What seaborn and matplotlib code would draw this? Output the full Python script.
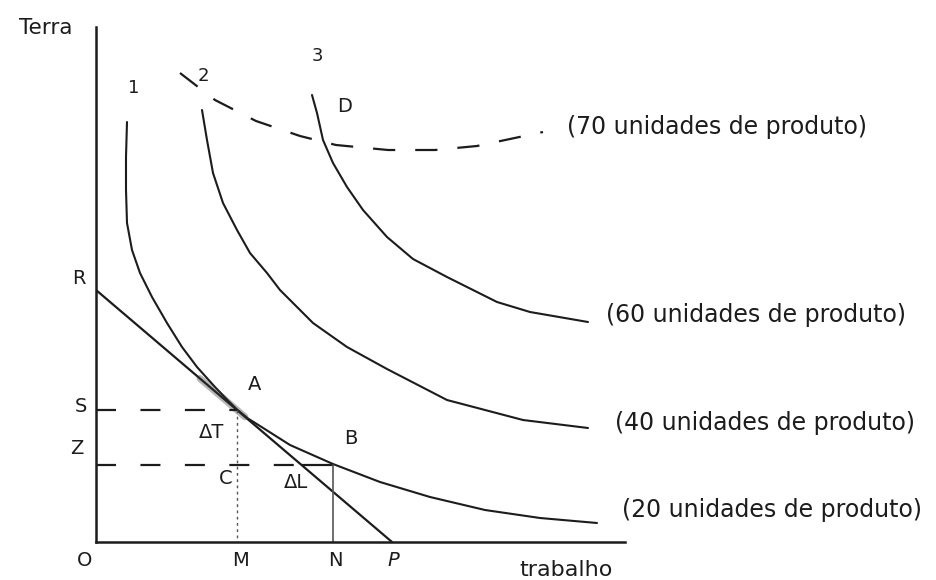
import numpy as np
import pandas as pd
import matplotlib
matplotlib.use("Agg")
import matplotlib.pyplot as plt
import seaborn as sns

# ---- isoquants: trabalho (L) on x, terra (T) on y ----
iso20_L = [3.1, 3.0, 3.0, 3.1, 3.6, 4.4, 5.6, 7.1, 8.6, 10.1, 11.9, 13.0, 14.1, 15.2, 16.4, 19.4, 23.7, 28.4, 33.4, 38.9, 44.4, 50.1]
iso20_T = [42.0, 38.5, 35.2, 31.9, 29.2, 26.9, 24.5, 21.9, 19.5, 17.5, 15.5, 14.35, 13.25, 12.35, 11.6, 9.7, 7.8, 6.0, 4.5, 3.2, 2.4, 1.9]

iso40_L = [10.6, 11.1, 11.7, 12.7, 14.1, 15.4, 17.1, 18.4, 21.7, 25.1, 29.1, 35.1, 42.7, 49.2]
iso40_T = [43.2, 40.2, 36.9, 33.9, 31.2, 28.9, 26.9, 25.2, 21.9, 19.5, 17.3, 14.2, 12.2, 11.4]

iso60_L = [21.6, 22.1, 22.7, 23.7, 25.1, 26.7, 29.1, 31.7, 35.1, 40.1, 43.4, 49.2]
iso60_T = [44.7, 42.9, 40.2, 37.9, 35.5, 33.2, 30.5, 28.3, 26.5, 24.0, 23.0, 22.0]

iso70_L = [8.4, 11.9, 16.0, 20.4, 24.0, 29.2, 33.9, 38.1, 44.7]
iso70_T = [46.9, 44.2, 42.1, 40.6, 39.7, 39.2, 39.2, 39.6, 41.0]

iso_labels = ["(20 unidades de produto)", "(40 unidades de produto)",
              "(60 unidades de produto)", "(70 unidades de produto)"]

# ---- isocost line R-P and the marked levels ----
R_T = 25.2      # intercept on the terra axis
P_L = 29.6      # intercept on the trabalho axis
M_L = 14.1      # trabalho at A
N_L = 23.7      # trabalho at B
S_T = 13.2      # terra at A
Z_T = 7.7       # terra at B

INK = "#1c1c1c"

sns.set_style("white")
plt.rcParams["font.family"] = ["DejaVu Sans"]

fig = plt.figure(figsize=(9.36, 5.8), dpi=100)
ax = fig.add_axes([96 / 936, 38 / 580, (625 - 96) / 936, (542 - 27) / 580])
ax.set_xlim(0, 52.9)
ax.set_ylim(0, 51.5)
for side in ("top", "right"):
    ax.spines[side].set_visible(False)
for side in ("left", "bottom"):
    ax.spines[side].set_color(INK)
    ax.spines[side].set_linewidth(1.8)
ax.set_xticks([])
ax.set_yticks([])

# isoquants
for L, T in [(iso20_L, iso20_T), (iso40_L, iso40_T), (iso60_L, iso60_T)]:
    sns.lineplot(x=L, y=T, ax=ax, sort=False, estimator=None, color=INK, lw=1.5)
sns.lineplot(x=iso70_L, y=iso70_T, ax=ax, sort=False, estimator=None,
             color=INK, lw=1.6, linestyle=(0, (10, 9)))

# isocost line R -> P
line = pd.DataFrame({"L": [0, P_L], "T": [R_T, 0]})
sns.lineplot(data=line, x="L", y="T", ax=ax, sort=False, estimator=None, color=INK, lw=1.6)
slope = -R_T / P_L

# darker smudge where the line touches the 20 isoquant
tL = np.array([10.4, 14.9])
ax.plot(tL, R_T + slope * tL, color="#333333", lw=5, alpha=0.35, solid_capstyle="round")

# dashed guides at S and Z
zL = (Z_T - R_T) / slope
ax.plot([0, M_L], [S_T, S_T], color=INK, lw=1.6, ls=(0, (9, 11)))
ax.plot([0, zL], [Z_T, Z_T], color=INK, lw=1.6, ls=(0, (9, 11)))
ax.plot([zL, N_L], [Z_T, Z_T], color=INK, lw=1.6)

# verticals from A and B to the trabalho axis
ax.plot([M_L, M_L], [S_T, 0], color="#555555", lw=1.0, ls=(0, (2, 2.5)))
ax.plot([N_L, N_L], [Z_T, 0], color="#555555", lw=1.2)

txt = dict(color=INK, ha="center", va="center", clip_on=False)

# axis titles
ax.text(-5.0, 51.4, "Terra", fontsize=15.5, **txt)
ax.text(47.0, -2.8, "trabalho", fontsize=16, **txt)

# isoquant labels
lab = dict(fontsize=17, ha="left", va="center", color=INK)
ax.text(iso20_L[-1] + 2.5, 3.2, iso_labels[0], **lab)
ax.text(iso40_L[-1] + 2.7, 11.9, iso_labels[1], **lab)
ax.text(iso60_L[-1] + 1.8, 22.7, iso_labels[2], **lab)
ax.text(iso70_L[-1] + 2.4, 41.5, iso_labels[3], **lab)

# curve numbers and points
ax.text(3.8, 45.4, "1", fontsize=13, **txt)
ax.text(10.7, 46.6, "2", fontsize=13, **txt)
ax.text(22.1, 48.6, "3", fontsize=13, **txt)
ax.text(24.9, 43.5, "D", fontsize=14, **txt)
ax.text(15.9, 15.8, "A", fontsize=14, **txt)
ax.text(25.5, 10.4, "B", fontsize=14, **txt)
ax.text(11.6, 11.0, "ΔT", fontsize=14, **txt)
ax.text(20.0, 5.9, "ΔL", fontsize=14, **txt)
ax.text(13.0, 6.3, "C", fontsize=14, **txt)

# axis letters
ax.text(-1.7, 26.3, "R", fontsize=14, **txt)
ax.text(-1.5, 13.5, "S", fontsize=14, **txt)
ax.text(-1.9, 9.4, "Z", fontsize=14, **txt)
ax.text(-1.1, -1.9, "O", fontsize=14, **txt)
ax.text(M_L + 0.3, -1.9, "M", fontsize=14, **txt)
ax.text(N_L + 0.2, -1.9, "N", fontsize=14, **txt)
ax.text(P_L + 0.1, -1.9, "P", fontsize=14, style="italic", **txt)

fig.savefig("out.png", dpi=100)
